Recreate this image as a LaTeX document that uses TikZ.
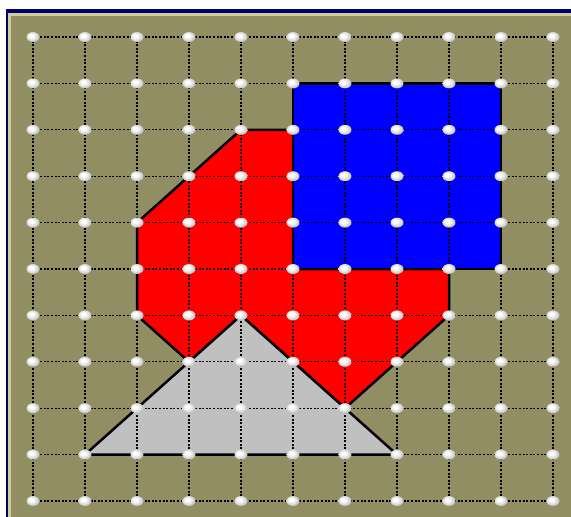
\documentclass[tikz,border=0pt]{standalone}
\definecolor{boardolive}{RGB}{145,142,100}
\definecolor{boardkhaki}{RGB}{210,206,152}
\definecolor{boardnavy}{RGB}{0,0,115}
\definecolor{shapegray}{RGB}{192,192,192}
\pgfdeclareradialshading{pegshade}{\pgfpoint{-8bp}{8bp}}{color(0bp)=(white); color(8bp)=(white); color(22bp)=(gray!35); color(34bp)=(gray!75); color(50bp)=(gray)}
\tikzset{
  gridline/.style={draw=black, line width=1.3pt, dash pattern=on 2pt off 1.6pt},
  shapeline/.style={draw=black, line width=2.5pt, line join=miter},
  peg/.style={ellipse, shading=pegshade, minimum width=13pt, minimum height=10pt, inner sep=0pt},
}
\usetikzlibrary{shapes.geometric}
\begin{document}
\begin{tikzpicture}[x=1pt,y=1pt]
\useasboundingbox (0,0) rectangle (571,-517);
\fill[white] (0,0) rectangle (571,-517);
\fill[boardnavy] (6,-9) rectangle (571,-517);
\fill[boardkhaki] (7.5,-12.8) rectangle (571,-517);
\fill[boardolive] (11,-15.5) rectangle (571,-517);
\begin{scope}[shift={(33,-37)}, x=52pt, y=-46.4pt]
  % red polygon
  \filldraw[shapeline, fill=red] (2,4) -- (4,2) -- (5,2) -- (5,5) -- (8,5) -- (8,6) -- (6,8) -- (4,6) -- (3,7) -- (2,6) -- cycle;
  % blue square
  \filldraw[shapeline, fill=blue] (5,1) rectangle (9,5);
  % gray triangle
  \filldraw[shapeline, fill=shapegray] (1,9) -- (4,6) -- (7,9) -- cycle;
  % grid
  \foreach \i in {0,...,10} {
    \draw[gridline] (\i,0) -- (\i,10);
    \draw[gridline] (0,\i) -- (10,\i);
  }
  % pegs
  \foreach \i in {0,...,10} {
    \foreach \j in {0,...,10} {
      \node[peg] (p\i-\j) at (\i,\j) {};
    }
  }
\end{scope}
\end{tikzpicture}
\end{document}
